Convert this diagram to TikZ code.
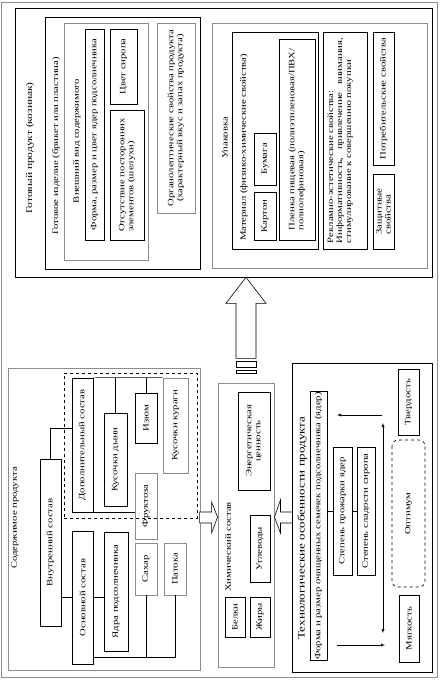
\documentclass[tikz,border=0pt]{standalone}
\usepackage{fontspec}
\setmainfont{Liberation Serif}[FakeStretch=1.3]

\begin{document}
\begin{tikzpicture}[
      x=1pt, y=-1pt,
      box/.style={draw, line width=0.6pt, rotate=90, inner sep=1pt, font=\fontsize{8.2}{9}\selectfont},
      gbox/.style={box, draw=gray!90, line width=0.8pt},
      frame/.style={draw, line width=0.6pt, inner sep=0pt},
      gframe/.style={frame, draw=gray!90, line width=0.9pt},
      lbl/.style={rotate=90, inner sep=0pt, font=\fontsize{8.2}{9}\selectfont},
      hollow/.style={draw, fill=white, line width=0.6pt},
      >=latex
  ]
    \useasboundingbox (0,0) rectangle (440,682);
    \draw[gray!90, line width=0.6pt] (1.5,2.5) rectangle (437.5,677.5);

    % --- Finished product (top block) ---
    \node[frame, minimum width=417pt, minimum height=269pt] (prod) at (223.5,142.5) {};
    \node[lbl, font=\fontsize{8.8}{10}\selectfont] (prodl) at (30,148) {Готовый продукт (козинак)};
    \node[frame, minimum width=155pt, minimum height=252pt] (izd) at (122.5,143) {};
    \node[lbl] (izdl) at (56,146) {Готовое изделие (брикет или пластина)};
    \node[gframe, minimum width=84pt, minimum height=237pt] (vid) at (106,141.5) {};
    \node[lbl] (vidl) at (77,141) {Внешний вид содержимого};
    \node[box, minimum width=211pt, minimum height=19pt] (forma) at (94.5,134.5)
      {Форма, размер и цвет ядер подсолнечника};
    \node[box, minimum width=75pt, minimum height=27pt] (cvet) at (123.5,66.5) {Цвет сиропа};
    \node[box, minimum width=130pt, minimum height=34pt, align=left] (otsut) at (127,175)
      {Отсутствие посторонних\\элементов (шелухи)};
    \node[gbox, minimum width=190pt, minimum height=38pt, align=center] (organ) at (176,118)
      {Органолептические свойства продукта\\(характерный вкус и запах продукта)};

    % --- Packaging ---
    \node[gframe, minimum width=215pt, minimum height=245pt] (upak) at (319.5,145.5) {};
    \node[lbl] (upakl) at (225,138) {Упаковка};
    \node[frame, minimum width=86pt, minimum height=217pt] (mat) at (275,140.5) {};
    \node[lbl, anchor=west] (matl) at (244,241) {Материал (физико-химические свойства)};
    \node[box, minimum width=48pt, minimum height=22pt] (karton) at (265,216) {Картон};
    \node[box, minimum width=52pt, minimum height=22pt] (bumaga) at (265,159) {Бумага};
    \node[box, minimum width=201pt, minimum height=36pt, align=left] (plenka) at (297,139.5)
      {Пленка пищевая (полиэтиленовая/ПВХ/\\полиолефиновая)};
    \node[box, minimum width=217pt, minimum height=44pt] (rek) at (345.5,140.5) {};
    \node[lbl, anchor=north, text width=205pt, align=left] (rekl) at ([xshift=4pt]rek.north)
      {Рекламно-эстетические свойства:\\Информативность,\hfill привлечение\hfill внимания,\\стимулирование к совершению покупки};
    \node[box, minimum width=133pt, minimum height=21pt] (potreb) at (383.5,98.5) {Потребительские свойства};
    \node[box, minimum width=75pt, minimum height=21pt, align=left] (zashch) at (383.5,211.5)
      {Защитные\\свойства};

    % --- Hollow arrow: content -> finished product ---
    \draw[hollow] ([xshift=22.5pt]prod.south) -- ++(20,26) -- ++(-10,0) -- ++(0,55)
      -- ++(-20,0) -- ++(0,-55) -- ++(-10,0) -- cycle;
    \draw[hollow] (236,361.5) rectangle (256,367);
    \draw[hollow] (236,370.5) rectangle (256,373.5);

    % --- Product content (bottom left) ---
    \node[gframe, minimum width=192pt, minimum height=302pt] (sod) at (104,519) {};
    \node[lbl] (sodl) at (15,518) {Содержимое продукта};
    \node[box, minimum width=167pt, minimum height=21pt] (int) at (50.5,542.5) {Внутренний состав};
    \node[frame, dashed, minimum width=133pt, minimum height=145pt] (dgrp) at (130.5,445.5) {};
    \node[box, minimum width=134pt, minimum height=21pt] (dop) at (82.5,445) {Дополнительный состав};
    \node[box, minimum width=93pt, minimum height=23pt] (dyn) at (115.5,459.5) {Кусочки дыни};
    \node[box, minimum width=50pt, minimum height=22pt] (izum) at (146,418) {Изюм};
    \node[gbox, minimum width=95pt, minimum height=25pt] (kur) at (175.5,425.5) {Кусочки кураги};
    \node[gbox, minimum width=66pt, minimum height=22pt] (fruk) at (146,506) {Фруктоза};
    \node[box, minimum width=133pt, minimum height=21pt] (osn) at (82.5,597.5) {Основной состав};
    \node[box, minimum width=119pt, minimum height=24pt] (yadra) at (116,591.5) {Ядра подсолнечника};
    \node[gbox, minimum width=52pt, minimum height=22pt] (sah) at (146,569) {Сахар};
    \node[gbox, minimum width=52pt, minimum height=22pt] (pat) at (175,569) {Патока};
    \coordinate (jn) at (130,657);

    \draw (int.east) |- ([yshift=17pt]dop.north);
    \draw (int.south |- osn.north) -- (osn.north);
    \draw (dop.south east) -- (kur.north east);
    \draw (dyn.east) -- (dyn.east |- dop.south east);
    \draw (izum.east) -- (izum.east |- dop.south east);
    \draw (dop.south west) -- (dop.south west -| fruk.north);
    \draw (osn.south) -- (osn.south -| yadra.north);
    \draw (osn.south |- jn) -| (pat.west);
    \draw (sah.west) -- (sah.west |- jn);

    % --- Chemical composition ---
    \node[gframe, minimum width=56pt, minimum height=284pt] (chem) at (246,525) {};
    \node[lbl, anchor=west] (cheml) at (228,592) {Химический состав};
    \node[box, minimum width=98pt, minimum height=32pt, align=center] (energ) at (254,441)
      {Энергетическая\\ценность};
    \node[box, minimum width=67pt, minimum height=20pt] (ugl) at (260,548.5) {Углеводы};
    \node[box, minimum width=40pt, minimum height=20pt] (belki) at (235,617) {Белки};
    \node[box, minimum width=40pt, minimum height=20pt] (zhiry) at (260,617) {Жиры};

    % --- Hollow arrows into chemical composition ---
    \draw[hollow] ([yshift=8pt]chem.west) -- ++(-6,-15) -- ++(0,10) -- ++(-12,0)
      -- ++(0,11) -- ++(12,0) -- ++(0,10) -- cycle;
    \draw[hollow] ([yshift=8pt]chem.east) -- ++(6,-17) -- ++(0,12) -- ++(12,0)
      -- ++(0,11) -- ++(-12,0) -- ++(0,10) -- cycle;

    % --- Technological features ---
    \node[frame, minimum width=140pt, minimum height=309pt] (tech) at (362,517.5) {};
    \node[lbl, font=\fontsize{10}{11}\selectfont] (techl) at (302,528) {Технологические особенности продукта};
    \node[box, minimum width=268pt, minimum height=17pt] (forma2) at (318.5,526)
      {Форма и размер очищенных семечек подсолнечника (ядер)};
    \node[box, minimum width=128pt, minimum height=19pt] (prozh) at (342.5,511) {Степень прожарки ядер};
    \node[box, minimum width=128pt, minimum height=18pt] (slad) at (366,511) {Степень сладости сиропа};
    \node[box, minimum width=66pt, minimum height=21pt] (tverd) at (408.5,402) {Твердость};
    \node[box, dashed, rounded corners=6pt, minimum width=147pt, minimum height=33pt] (opt) at (408.5,513.5) {Оптимум};
    \node[box, minimum width=67pt, minimum height=20pt] (myag) at (409,628.5) {Мягкость};
    \coordinate (atop) at (383,423);
    \coordinate (abot) at (383,633);
    \coordinate (ua1) at (382,415);
    \coordinate (ua2) at (337,415);
    \coordinate (la1) at (337,645);
    \coordinate (la2) at (385,645);

    \draw (forma2.south |- prozh.north) -- (prozh.north);
    \draw (prozh.south) -- (slad.north);
    \draw[<->] (atop) -- (abot);
    \draw[->] (ua1) -- (ua2);
    \draw[->] (la1) -- (la2);

  \end{tikzpicture}
\end{document}
